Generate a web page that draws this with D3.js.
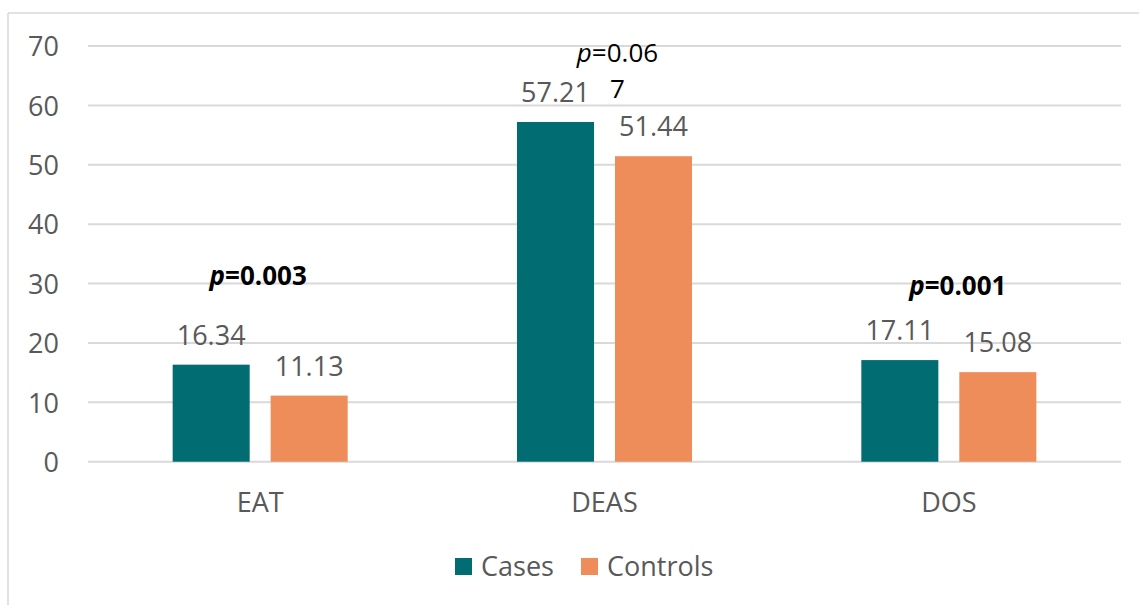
<!DOCTYPE html>
<html>
<head>
<meta charset="utf-8">
<script src="https://cdn.jsdelivr.net/npm/d3@7"></script>
<style>
  html, body { margin: 0; padding: 0; background: #fff; }
  svg { display: block; }
</style>
</head>
<body>
<svg id="chart" width="1139" height="605"></svg>
<script>
// Mean scores per questionnaire, cases vs. controls
const categories = ["EAT", "DEAS", "DOS"];
const seriesNames = ["Cases", "Controls"];
const casesValues = [16.34, 57.21, 17.11];
const controlsValues = [11.13, 51.44, 15.08];
const yTicks = [0, 10, 20, 30, 40, 50, 60, 70];
// Significance annotations: one per category
const pValues = ["0.003", "0.06", "0.001"];
const pBold = [true, false, true];
const pOverflow = ["", "7", ""];        // text wrapped to a second line

// annotation placement (offset from band centre, baseline y)
const pLayout = [
  { dx: -2, y: 285 },
  { dx: 13, y: 62 },
  { dx: 9, y: 295 }
];

const colors = { Cases: "#026c73", Controls: "#ee8c5a" };
const textGray = "#595959";
const fontFamily = "'Open Sans', 'Segoe UI', sans-serif";
const fs = 27;

const svg = d3.select("#chart");

// outer frame (only top and left edges fall inside the view)
svg.append("line").attr("x1", 8).attr("x2", 1139).attr("y1", 13).attr("y2", 13)
  .attr("stroke", "#d9d9d9").attr("stroke-width", 1.5);
svg.append("line").attr("x1", 8).attr("x2", 8).attr("y1", 13).attr("y2", 605)
  .attr("stroke", "#d9d9d9").attr("stroke-width", 1.5);

const x0 = d3.scaleBand().domain(categories).range([88, 1121]).padding(0);
const x1 = d3.scaleBand().domain(seriesNames).range([0, x0.bandwidth()])
  .paddingInner(0.214).paddingOuter(0.864);
const y = d3.scaleLinear().domain([0, 70]).range([461.7, 46]);

// gridlines
svg.append("g").selectAll("line").data(yTicks).join("line")
  .attr("x1", 88).attr("x2", 1121)
  .attr("y1", d => y(d)).attr("y2", d => y(d))
  .attr("stroke", "#d9d9d9").attr("stroke-width", 2);

// y-axis labels
const yAxis = d3.axisLeft(y).tickValues(yTicks).tickSize(0).tickPadding(0);
const yg = svg.append("g").attr("transform", "translate(59,0)").call(yAxis);
yg.select(".domain").remove();
yg.selectAll("text").attr("fill", textGray).attr("font-size", fs)
  .attr("font-family", fontFamily).attr("dy", "0.36em");

// x-axis labels
const xAxis = d3.axisBottom(x0).tickSize(0).tickPadding(0);
const xg = svg.append("g").attr("transform", "translate(0,493)").call(xAxis);
xg.select(".domain").remove();
xg.selectAll("text").attr("fill", textGray).attr("font-size", fs)
  .attr("font-family", fontFamily).attr("dy", "0.71em");

const rows = categories.map((c, i) => ({
  category: c,
  values: [
    { series: "Cases", value: casesValues[i] },
    { series: "Controls", value: controlsValues[i] }
  ]
}));

const groups = svg.append("g").selectAll("g").data(rows).join("g")
  .attr("transform", d => `translate(${x0(d.category)},0)`);

groups.selectAll("rect").data(d => d.values).join("rect")
  .attr("x", d => x1(d.series))
  .attr("width", x1.bandwidth())
  .attr("y", d => y(d.value))
  .attr("height", d => y(0) - y(d.value))
  .attr("fill", d => colors[d.series]);

groups.selectAll("text.val").data(d => d.values).join("text")
  .attr("class", "val")
  .attr("x", d => x1(d.series) + x1.bandwidth() / 2)
  .attr("y", d => y(d.value) - 20)
  .attr("text-anchor", "middle")
  .attr("fill", textGray).attr("font-size", fs).attr("font-family", fontFamily)
  .text(d => d.value.toFixed(2));

// p-value annotations
categories.forEach((c, i) => {
  const cx = x0(c) + x0.bandwidth() / 2 + pLayout[i].dx;
  const t = svg.append("text")
    .attr("x", cx).attr("y", pLayout[i].y)
    .attr("text-anchor", "middle")
    .attr("fill", "#000").attr("font-size", 26).attr("font-family", fontFamily)
    .attr("font-weight", pBold[i] ? "bold" : "normal");
  t.append("tspan").attr("font-style", "italic").text("p");
  t.append("tspan").text("=" + pValues[i]);
  if (pOverflow[i]) {
    svg.append("text")
      .attr("x", cx).attr("y", pLayout[i].y + 36)
      .attr("text-anchor", "middle")
      .attr("fill", "#000").attr("font-size", 26).attr("font-family", fontFamily)
      .text(pOverflow[i]);
  }
});

// legend
const legend = svg.append("g").attr("transform", "translate(455,558)");
const legendX = [0, 126];
seriesNames.forEach((s, i) => {
  const g = legend.append("g").attr("transform", `translate(${legendX[i]},0)`);
  g.append("rect").attr("width", 17).attr("height", 17).attr("fill", colors[s]);
  g.append("text").attr("x", 26).attr("y", 8.5).attr("dy", "0.36em")
    .attr("fill", textGray).attr("font-size", fs).attr("font-family", fontFamily)
    .text(s);
});
</script>
</body>
</html>
